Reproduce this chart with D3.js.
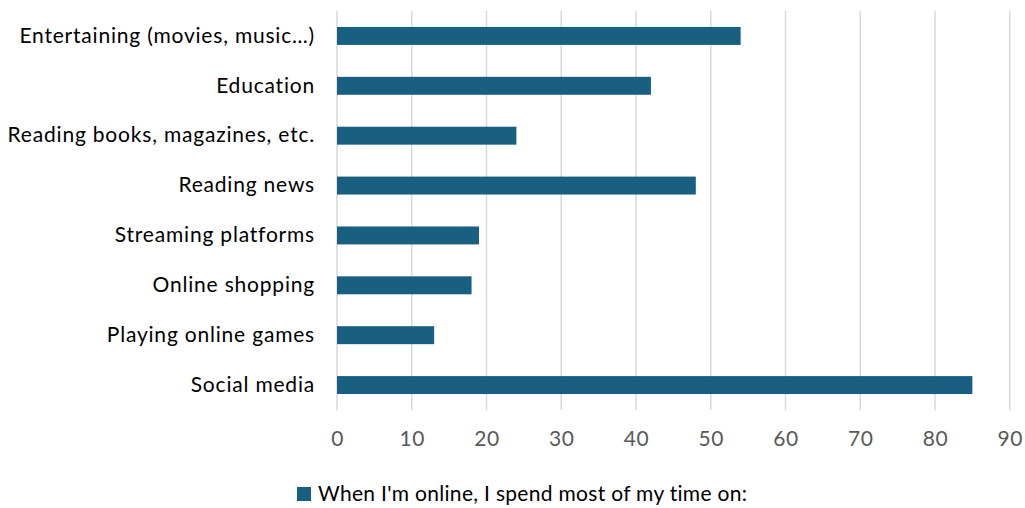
<!DOCTYPE html>
<html>
<head>
<meta charset="utf-8">
<script src="https://cdn.jsdelivr.net/npm/d3@7"></script>
<style>
  body { margin: 0; background: #fff; overflow: hidden; }
  svg { font-family: Lato, sans-serif; }
</style>
</head>
<body>
<div id="chart"></div>
<script>
// Data
const categories = [
  "Entertaining (movies, music...)",
  "Education",
  "Reading books, magazines, etc.",
  "Reading news",
  "Streaming platforms",
  "Online shopping",
  "Playing online games",
  "Social media"
];
const values = [54, 42, 24, 48, 19, 18, 13, 85];
const xTicks = [0, 10, 20, 30, 40, 50, 60, 70, 80, 90];
const seriesName = "When I'm online, I spend most of my time on:";

const W = 1025, H = 508;
const margin = { top: 11, right: 15, bottom: 98, left: 337 };
const width = (1009.75 - margin.left);
const height = H - margin.top - margin.bottom;

const svg = d3.select("#chart")
  .append("svg")
  .attr("width", W)
  .attr("height", H);

const g = svg.append("g")
  .attr("transform", `translate(${margin.left},${margin.top})`);

const x = d3.scaleLinear().domain([0, 90]).range([0, width]);
const y = d3.scaleBand().domain(categories).range([0, height]).paddingInner(0.64).paddingOuter(0.32);

// Gridlines
g.selectAll("line.grid")
  .data(xTicks)
  .enter()
  .append("line")
  .attr("class", "grid")
  .attr("x1", d => x(d))
  .attr("x2", d => x(d))
  .attr("y1", 0)
  .attr("y2", height)
  .attr("stroke", "#d9d9d9")
  .attr("stroke-width", 1.5);

// Bars
g.selectAll("rect.bar")
  .data(values)
  .enter()
  .append("rect")
  .attr("class", "bar")
  .attr("x", x(0))
  .attr("y", (d, i) => y(categories[i]))
  .attr("width", d => x(d))
  .attr("height", y.bandwidth())
  .attr("fill", "#195f82");

// X axis tick labels
const xAxis = g.append("g")
  .attr("transform", `translate(0,${height})`)
  .call(d3.axisBottom(x).tickValues(xTicks).tickSize(0).tickPadding(21));
xAxis.select(".domain").remove();
xAxis.selectAll("text")
  .attr("fill", "#595959")
  .style("font-size", "21px")
  .style("letter-spacing", "0.5px")
  .style("font-family", "Lato, sans-serif");

// Y axis labels
const yAxis = g.append("g")
  .call(d3.axisLeft(y).tickSize(0).tickPadding(22));
yAxis.select(".domain").remove();
yAxis.selectAll("text")
  .attr("fill", "#000")
  .style("font-size", "21px")
  .style("letter-spacing", "0.8px")
  .style("font-family", "Lato, sans-serif")
  .text(d => d.replace("...", "\u2026"));

// Legend
const legend = svg.append("g")
  .attr("transform", "translate(297,487)");
legend.append("rect")
  .attr("width", 14)
  .attr("height", 14)
  .attr("fill", "#195f82");
legend.append("text")
  .attr("x", 21)
  .attr("y", 7)
  .attr("dy", "0.35em")
  .style("font-size", "21px")
  .style("letter-spacing", "0.3px")
  .attr("fill", "#000")
  .text(seriesName);
</script>
</body>
</html>
